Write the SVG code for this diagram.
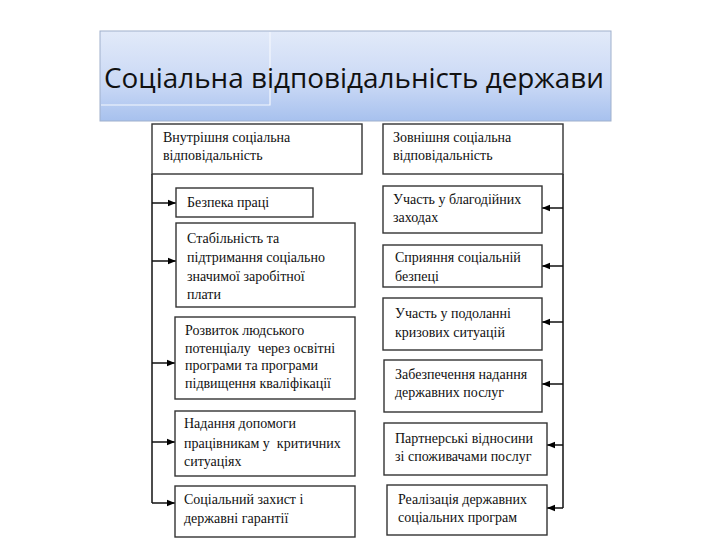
<svg xmlns="http://www.w3.org/2000/svg" width="720" height="540" viewBox="0 0 720 540">
<defs>
<linearGradient id="tg" x1="0" y1="0" x2="0" y2="1">
<stop offset="0" stop-color="#e2eaf9"/>
<stop offset="0.6" stop-color="#c9d8f5"/>
<stop offset="1" stop-color="#a7c1ee"/>
</linearGradient>
<marker id="ah" viewBox="0 0 10 10" refX="10" refY="5" markerWidth="8" markerHeight="8" markerUnits="userSpaceOnUse" orient="auto">
<path d="M0,1 L10,5 L0,9 z" fill="#000"/>
</marker>
<style>
.box{fill:#fff;stroke:#333;stroke-width:1.4}
.t{font-family:"Liberation Serif","Times New Roman",serif;font-size:14px;fill:#111;white-space:pre}
.c{fill:none;stroke:#111;stroke-width:1.5}
.title{font-family:"Open Sans","Noto Sans",sans-serif;font-size:27px;fill:#111}
</style>
</defs>
<rect width="720" height="540" fill="#fff"/>
<g id="title">
<rect x="100" y="31" width="511" height="90" fill="url(#tg)" stroke="#9fb0cc" stroke-width="1"/>
<path d="M101,105 H270 V32" fill="none" stroke="#f4f7fd" stroke-width="1.2"/>
<text class="title" x="104" y="88" textLength="500" lengthAdjust="spacingAndGlyphs">Соціальна відповідальність держави</text>
</g>
<g id="connectors">
<path class="c" d="M152,174 V503"/>
<path class="c" d="M152,203 H176" marker-end="url(#ah)"/>
<path class="c" d="M152,261 H176" marker-end="url(#ah)"/>
<path class="c" d="M152,363 H175" marker-end="url(#ah)"/>
<path class="c" d="M152,442 H175" marker-end="url(#ah)"/>
<path class="c" d="M152,503 H175" marker-end="url(#ah)"/>
<path class="c" d="M563,174 V508"/>
<path class="c" d="M563,208 H542" marker-end="url(#ah)"/>
<path class="c" d="M563,266 H542" marker-end="url(#ah)"/>
<path class="c" d="M563,322 H542" marker-end="url(#ah)"/>
<path class="c" d="M563,384 H542" marker-end="url(#ah)"/>
<path class="c" d="M563,445 H547" marker-end="url(#ah)"/>
<path class="c" d="M563,508 H547" marker-end="url(#ah)"/>
</g>
<g id="internal">
<rect class="box" x="152" y="124" width="210" height="50"/>
<text class="t" x="163" y="142">Внутрішня соціальна</text>
<text class="t" x="163" y="160">відповідальність</text>
</g>
<g id="safety">
<rect class="box" x="176" y="188" width="137" height="29"/>
<text class="t" x="187" y="207">Безпека праці</text>
</g>
<g id="stability">
<rect class="box" x="176" y="223" width="179" height="84"/>
<text class="t" x="187" y="243">Стабільність та</text>
<text class="t" x="187" y="262">підтримання соціально</text>
<text class="t" x="187" y="281">значимої заробітної</text>
<text class="t" x="187" y="299">плати</text>
</g>
<g id="development">
<rect class="box" x="175" y="317" width="180" height="82"/>
<text class="t" x="185" y="335">Розвиток людського</text>
<text class="t" x="185" y="353">потенціалу  через освітні</text>
<text class="t" x="185" y="370">програми та програми</text>
<text class="t" x="185" y="388">підвищення кваліфікації</text>
</g>
<g id="assistance">
<rect class="box" x="175" y="411" width="180" height="65"/>
<text class="t" x="184" y="428">Надання допомоги</text>
<text class="t" x="184" y="448">працівникам у  критичних</text>
<text class="t" x="184" y="466">ситуаціях</text>
</g>
<g id="protection">
<rect class="box" x="175" y="486" width="180" height="51"/>
<text class="t" x="184" y="504">Соціальний захист і</text>
<text class="t" x="184" y="523">державні гарантії</text>
</g>
<g id="external">
<rect class="box" x="383" y="124" width="180" height="50"/>
<text class="t" x="393" y="142">Зовнішня соціальна</text>
<text class="t" x="393" y="160">відповідальність</text>
</g>
<g id="charity">
<rect class="box" x="383" y="186" width="159" height="47"/>
<text class="t" x="393" y="204">Участь у благодійних</text>
<text class="t" x="393" y="222">заходах</text>
</g>
<g id="security">
<rect class="box" x="383" y="245" width="159" height="42"/>
<text class="t" x="395" y="262">Сприяння соціальній</text>
<text class="t" x="395" y="281">безпеці</text>
</g>
<g id="crisis">
<rect class="box" x="383" y="298" width="159" height="52"/>
<text class="t" x="395" y="318">Участь у подоланні</text>
<text class="t" x="395" y="337">кризових ситуацій</text>
</g>
<g id="services">
<rect class="box" x="384" y="360" width="158" height="52"/>
<text class="t" x="395" y="379">Забезпечення надання</text>
<text class="t" x="395" y="397">державних послуг</text>
</g>
<g id="partners">
<rect class="box" x="384" y="423" width="163" height="52"/>
<text class="t" x="395" y="443">Партнерські відносини</text>
<text class="t" x="395" y="461">зі споживачами послуг</text>
</g>
<g id="programs">
<rect class="box" x="387" y="485" width="160" height="50"/>
<text class="t" x="398" y="504">Реалізація державних</text>
<text class="t" x="398" y="522">соціальних програм</text>
</g>
</svg>
